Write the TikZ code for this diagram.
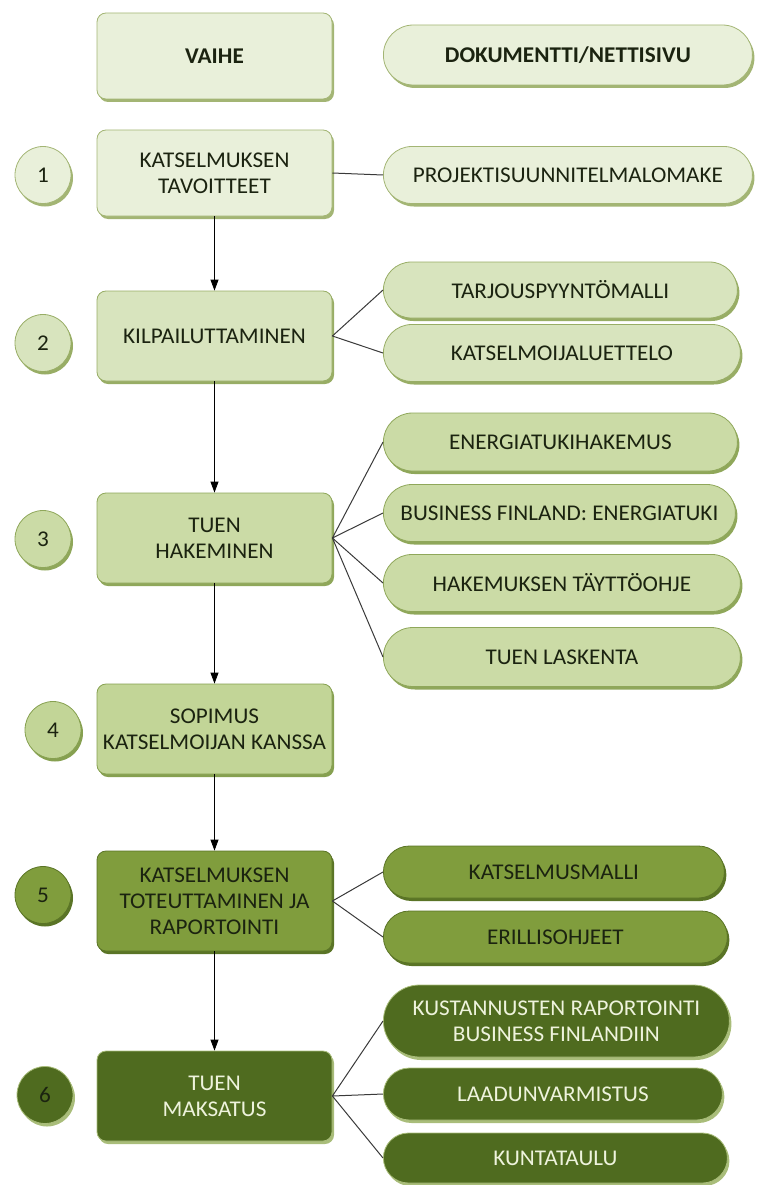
\documentclass[tikz,border=0pt]{standalone}
\usepackage{fontspec}
\setmainfont{Carlito}[FakeStretch=1.03]
\usetikzlibrary{shapes.misc,shapes.geometric,shadows,arrows.meta}
\definecolor{fa}{HTML}{E9F0DA}\definecolor{ea}{HTML}{A3B574}
\definecolor{fb}{HTML}{D8E4BE}\definecolor{eb}{HTML}{98AD65}
\definecolor{fc}{HTML}{CBDBA6}\definecolor{ec}{HTML}{8FA75A}
\definecolor{fd}{HTML}{C2D597}\definecolor{ed}{HTML}{86A050}
\definecolor{fe}{HTML}{809D3D}\definecolor{ee}{HTML}{5A7426}
\definecolor{ff}{HTML}{4F6B1F}\definecolor{eff}{HTML}{A9BD7A}
\definecolor{txtd}{HTML}{1B2310}\definecolor{txtl}{HTML}{EEF3DC}
\definecolor{lin}{HTML}{3A3A3A}
\tikzset{
  base/.style 2 args={fill=#1, draw=#2, line width=0.8pt,
    drop shadow={shadow xshift=2pt, shadow yshift=-3pt, fill=#2, opacity=1},
    align=center, text=txtd, font=\fontsize{22.5}{26}\selectfont},
  stepbox/.style 2 args={base={#1}{#2}, rectangle, rounded corners=9pt,
    minimum width=235pt, inner xsep=2pt},
  pill/.style 2 args={base={#1}{#2}, rounded rectangle, anchor=west, inner xsep=4pt},
  numc/.style 2 args={base={#1}{#2}, ellipse, minimum width=56pt, minimum height=57pt, inner sep=0pt},
  conn/.style={draw=lin, line width=1pt},
  arr/.style={draw=black, line width=0.8pt, -{Triangle[length=11pt,width=8pt]}}
}
\begin{document}
\begin{tikzpicture}[x=1pt,y=-1pt]
\useasboundingbox (0,0) rectangle (780,1185);
% header
\node[stepbox={fa}{ea}, minimum height=86pt] (h0) at (214.5,56) {\textbf{VAIHE}};
\node[pill={fa}{ea}, minimum width=377pt, minimum height=60pt] (p0) at (383,55) {\textbf{DOKUMENTTI/NETTISIVU}};
% steps
\node[stepbox={fa}{ea}, minimum height=86pt] (b1) at (214.5,173) {KATSELMUKSEN\\TAVOITTEET};
\node[stepbox={fb}{eb}, minimum height=90pt] (b2) at (214.5,336) {KILPAILUTTAMINEN};
\node[stepbox={fc}{ec}, minimum height=90pt] (b3) at (214.5,538) {TUEN\\HAKEMINEN};
\node[stepbox={fd}{ed}, minimum height=90pt] (b4) at (214.5,729) {SOPIMUS\\KATSELMOIJAN KANSSA};
\node[stepbox={fe}{ee}, minimum height=100pt] (b5) at (214.5,901) {KATSELMUKSEN\\TOTEUTTAMINEN JA\\RAPORTOINTI};
\node[stepbox={ff}{eff}, minimum height=90pt, text=txtl] (b6) at (214.5,1096) {TUEN\\MAKSATUS};
% numbers
\node[numc={fa}{ea}] (n1) at (43,175) {1};
\node[numc={fb}{eb}] (n2) at (43,343) {2};
\node[numc={fc}{ec}] (n3) at (43,539) {3};
\node[numc={fd}{ed}] (n4) at (53,730) {4};
\node[numc={fe}{ee}] (n5) at (43,895) {5};
\node[numc={ff}{eff}] (n6) at (45,1095) {6};
% documents
\node[pill={fa}{ea}, minimum width=377pt, minimum height=57pt] (p1) at (383,175) {PROJEKTISUUNNITELMALOMAKE};
\node[pill={fb}{eb}, minimum width=362pt, minimum height=56pt] (p2a) at (383,290) {TARJOUSPYYNTÖMALLI};
\node[pill={fb}{eb}, minimum width=365pt, minimum height=57pt] (p2b) at (383,353) {KATSELMOIJALUETTELO};
\node[pill={fc}{ec}, minimum width=362pt, minimum height=58pt] (p3a) at (383,442) {ENERGIATUKIHAKEMUS};
\node[pill={fc}{ec}, minimum width=360pt, minimum height=57pt] (p3b) at (383,513) {BUSINESS FINLAND: ENERGIATUKI};
\node[pill={fc}{ec}, minimum width=365pt, minimum height=57pt] (p3c) at (383,583) {HAKEMUKSEN TÄYTTÖOHJE};
\node[pill={fc}{ec}, minimum width=365pt, minimum height=59pt] (p3d) at (383,657) {TUEN LASKENTA};
\node[pill={fe}{ee}, minimum width=349pt, minimum height=52pt] (p5a) at (383,872) {KATSELMUSMALLI};
\node[pill={fe}{ee}, minimum width=352pt, minimum height=52pt] (p5b) at (383,937) {ERILLISOHJEET};
\node[pill={ff}{eff}, minimum width=354pt, minimum height=72pt, text=txtl] (p6a) at (383,1021) {KUSTANNUSTEN RAPORTOINTI\\BUSINESS FINLANDIIN};
\node[pill={ff}{eff}, minimum width=347pt, minimum height=52pt, text=txtl] (p6b) at (383,1094) {LAADUNVARMISTUS};
\node[pill={ff}{eff}, minimum width=352pt, minimum height=50pt, text=txtl] (p6c) at (383,1158) {KUNTATAULU};
% connectors
\draw[conn] (b1.east) -- (p1.west);
\draw[conn] (b2.east) -- (p2a.west);
\draw[conn] (b2.east) -- (p2b.west);
\foreach \p in {p3a,p3b,p3c,p3d} \draw[conn] (b3.east) -- (\p.west);
\draw[conn] (b5.east) -- (p5a.west);
\draw[conn] (b5.east) -- (p5b.west);
\foreach \p in {p6a,p6b,p6c} \draw[conn] (b6.east) -- (\p.west);
% arrows
\draw[arr] (b1.south) -- (b2.north);
\draw[arr] (b2.south) -- (b3.north);
\draw[arr] (b3.south) -- (b4.north);
\draw[arr] (b4.south) -- (b5.north);
\draw[arr] (b5.south) -- (b6.north);
\end{tikzpicture}
\end{document}
